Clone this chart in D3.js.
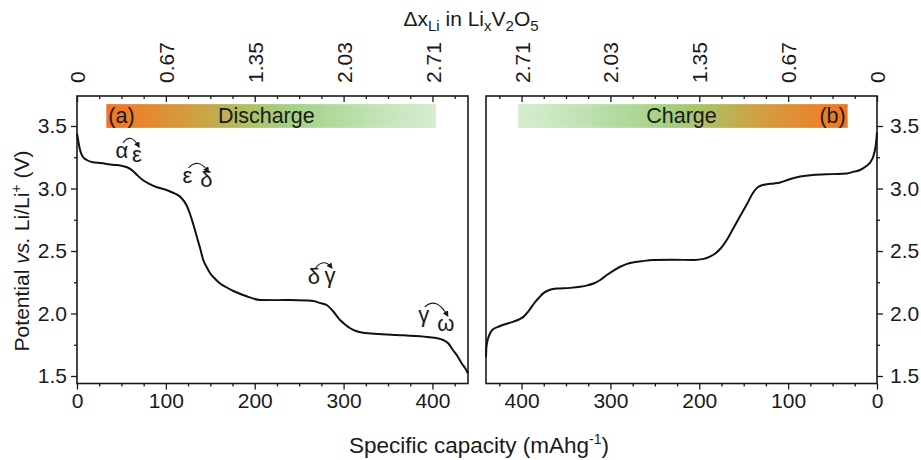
<!DOCTYPE html>
<html><head><meta charset="utf-8">
<script src="https://cdn.jsdelivr.net/npm/d3@7"></script>
<style>
body{margin:0;background:#fff}
text{font-family:"Liberation Sans",Arial,sans-serif;fill:#1a1a1a}
</style>
</head><body>
<svg id="c" width="921" height="460"></svg>
<script>
// ---------- data ----------
const dischargeCap = [0,1,3,6,11,18,26,40,50,57,63,68,74,82,90,100,108,114,118,123,127,131,135,139,142,146,150,155,161,168,176,190,206,225,240,258,266,273,281,288,296,302,307,314,322,340,360,380,397,405,412,418,423,428,433,437,440];
const dischargeV   = [3.44,3.40,3.32,3.26,3.228,3.21,3.204,3.19,3.182,3.168,3.14,3.105,3.068,3.035,3.01,2.99,2.966,2.945,2.92,2.87,2.80,2.71,2.61,2.51,2.43,2.37,2.32,2.28,2.24,2.21,2.18,2.14,2.108,2.107,2.108,2.104,2.10,2.085,2.068,2.02,1.948,1.91,1.884,1.86,1.846,1.836,1.828,1.82,1.81,1.803,1.788,1.76,1.708,1.66,1.60,1.56,1.52];
const chargeCap = [440,439.5,437,433,424,409,402,397.6,392,386,380,375,368,360,345,334,326,319,311,304,296,289,282,275,265,252,230,206,195,188,182,176,168,161,154,146,140,135,130,124,116,109,100,90,72,50,34,26,19,12,7.5,4,2,1,0];
const chargeV   = [1.65,1.735,1.815,1.868,1.90,1.935,1.955,1.975,2.02,2.08,2.13,2.165,2.19,2.20,2.205,2.214,2.225,2.24,2.27,2.308,2.345,2.374,2.395,2.408,2.418,2.428,2.43,2.428,2.437,2.455,2.48,2.52,2.60,2.69,2.78,2.88,2.96,3.005,3.025,3.034,3.04,3.048,3.07,3.09,3.108,3.115,3.12,3.135,3.148,3.18,3.21,3.26,3.32,3.37,3.45];
const capTicks = [0,100,200,300,400];
const capMinorTicks = [25,50,75,125,150,175,225,250,275,325,350,375,425];
const dxTickLabels = ["0","0.67","1.35","2.03","2.71"];
const vTicks = [1.5,2.0,2.5,3.0,3.5];
const vMinorTicks = [1.75,2.25,2.75,3.25];
const barCapRange = [33,404];
const barVRange = [3.485,3.675];
const phaseFrom = ["α","ε","δ","γ"];
const phaseTo   = ["ε","δ","γ","ω"];
const phaseFromCap = [50.6,124.3,266.6,390.3];
const phaseFromV   = [3.244,3.044,2.236,1.932];
const phaseToCap   = [67.5,145.7,284.6,415];
const phaseToV     = [3.212,3.012,2.244,1.86];

// ---------- scales ----------
const svg = d3.select("#c");
const yTop = 96, yBot = 383.5;
const y  = d3.scaleLinear().domain([1.44,3.74]).range([yBot,yTop]);
const xL = d3.scaleLinear().domain([0,440]).range([77,468]);
const xR = d3.scaleLinear().domain([440,0]).range([486,877]);

const defs = svg.append("defs");
function grad(id, rev){
  const g = defs.append("linearGradient").attr("id",id)
    .attr("x1", rev?"100%":"0%").attr("x2", rev?"0%":"100%").attr("y1","0%").attr("y2","0%");
  [[0,"#f07424"],[0.1,"#e9852c"],[0.28,"#cda244"],[0.42,"#b0bd62"],[0.55,"#a3d084"],[0.8,"#bfe2b2"],[1,"#d7edd2"]]
    .forEach(s=>g.append("stop").attr("offset",s[0]).attr("stop-color",s[1]));
}
grad("gL",false); grad("gR",true);
defs.append("marker").attr("id","arr").attr("viewBox","0 0 10 10").attr("refX",8).attr("refY",5)
  .attr("markerWidth",5.5).attr("markerHeight",5.5).attr("orient","auto")
  .append("path").attr("d","M0,0L10,5L0,10z").attr("fill","#1a1a1a");

function styleAxis(g){
  g.select(".domain").remove();
  g.selectAll("line").attr("stroke","#1a1a1a").attr("stroke-width",1.3);
  g.selectAll("text").style("font-size","21px").attr("fill","#1a1a1a");
}

function panel(x, side){
  svg.append("rect")
    .attr("x", Math.min(x(barCapRange[0]),x(barCapRange[1])))
    .attr("y", y(barVRange[1]))
    .attr("width", Math.abs(x(barCapRange[1])-x(barCapRange[0])))
    .attr("height", y(barVRange[0])-y(barVRange[1]))
    .attr("fill", side==="L"?"url(#gL)":"url(#gR)");
  svg.append("g").attr("transform",`translate(0,${yBot})`)
    .call(d3.axisBottom(x).tickValues(capTicks).tickSize(6).tickPadding(4).tickFormat(d3.format("d"))).call(styleAxis);
  svg.append("g").attr("transform",`translate(0,${yBot})`)
    .call(d3.axisBottom(x).tickValues(capMinorTicks).tickSize(3).tickFormat("")).call(styleAxis);
  const ta = svg.append("g").attr("transform",`translate(0,${yTop})`)
    .call(d3.axisTop(x).tickValues(capTicks).tickSize(-6).tickFormat((d,i)=>dxTickLabels[i])).call(styleAxis);
  ta.selectAll("text").attr("transform","rotate(-90)").attr("text-anchor","start")
    .attr("x",13).attr("y",0).attr("dy","0.36em");
  svg.append("g").attr("transform",`translate(0,${yTop})`)
    .call(d3.axisTop(x).tickValues(capMinorTicks).tickSize(-3).tickFormat("")).call(styleAxis);
  const x0 = side==="L"? x.range()[0] : x.range()[1];
  const ax = side==="L"? d3.axisLeft(y) : d3.axisRight(y);
  const ax2 = side==="L"? d3.axisLeft(y) : d3.axisRight(y);
  svg.append("g").attr("transform",`translate(${x0},0)`)
    .call(ax.tickValues(vTicks).tickSize(6).tickPadding(side==="L"?4:7).tickFormat(d3.format(".1f"))).call(styleAxis);
  svg.append("g").attr("transform",`translate(${x0},0)`)
    .call(ax2.tickValues(vMinorTicks).tickSize(3).tickFormat("")).call(styleAxis);
  svg.append("rect").attr("x",x.range()[0]).attr("y",yTop)
    .attr("width",x.range()[1]-x.range()[0]).attr("height",yBot-yTop)
    .attr("fill","none").attr("stroke","#1a1a1a").attr("stroke-width",1.6);
}
panel(xL,"L"); panel(xR,"R");

const lineGen = (x)=>d3.line().x(d=>x(d[0])).y(d=>y(d[1])).curve(d3.curveMonotoneX);
svg.append("path").datum(dischargeCap.map((c,i)=>[c,dischargeV[i]]))
  .attr("d",lineGen(xL)).attr("fill","none").attr("stroke","#111").attr("stroke-width",2);
svg.append("path").datum(chargeCap.map((c,i)=>[c,chargeV[i]]))
  .attr("d",lineGen(xR)).attr("fill","none").attr("stroke","#111").attr("stroke-width",2);

const barTextY = y(barVRange[0]) - 5;
const bf = "21.5px";
svg.append("text").attr("x",xL(barCapRange[0])+2).attr("y",barTextY).style("font-size",bf).text("(a)");
svg.append("text").attr("x",xL(213)).attr("y",barTextY).attr("text-anchor","middle").style("font-size",bf).text("Discharge");
svg.append("text").attr("x",xR(220)).attr("y",barTextY).attr("text-anchor","middle").style("font-size",bf).text("Charge");
svg.append("text").attr("x",xR(barCapRange[0])-2).attr("y",barTextY).attr("text-anchor","end").style("font-size",bf).text("(b)");

phaseFrom.forEach((a,i)=>{
  const x1 = xL(phaseFromCap[i]), y1 = y(phaseFromV[i]);
  const x2 = xL(phaseToCap[i]),   y2 = y(phaseToV[i]);
  svg.append("text").attr("x",x1).attr("y",y1).attr("text-anchor","middle").style("font-size","22px").text(a);
  svg.append("text").attr("x",x2).attr("y",y2).attr("text-anchor","middle").style("font-size","22px").text(phaseTo[i]);
  const sx = x1+1, sy = y1-15, ex = x2+2, ey = y2-15;
  svg.append("path").attr("d",`M${sx},${sy}Q${(sx+ex)/2},${Math.min(sy,ey)-11} ${ex},${ey}`)
    .attr("fill","none").attr("stroke","#1a1a1a").attr("stroke-width",1.1).attr("marker-end","url(#arr)");
});

const topTitle = svg.append("text").attr("x",471).attr("y",26).attr("text-anchor","middle").style("font-size","21px");
topTitle.append("tspan").text("Δx");
topTitle.append("tspan").attr("dy",5).style("font-size","15px").text("Li");
topTitle.append("tspan").attr("dy",-5).text(" in Li");
topTitle.append("tspan").attr("dy",5).style("font-size","15px").text("x");
topTitle.append("tspan").attr("dy",-5).text("V");
topTitle.append("tspan").attr("dy",5).style("font-size","15px").text("2");
topTitle.append("tspan").attr("dy",-5).text("O");
topTitle.append("tspan").attr("dy",5).style("font-size","15px").text("5");

const bt = svg.append("text").attr("x",479).attr("y",453).attr("text-anchor","middle").style("font-size","22.5px");
bt.append("tspan").text("Specific capacity (mAhg");
bt.append("tspan").attr("dy",-9).style("font-size","14px").text("-1");
bt.append("tspan").attr("dy",9).text(")");

const yt = svg.append("text").attr("transform","translate(29,251) rotate(-90)").attr("text-anchor","middle").style("font-size","21px");
yt.append("tspan").text("Potential ");
yt.append("tspan").style("font-style","italic").text("vs.");
yt.append("tspan").text(" Li/Li");
yt.append("tspan").attr("dy",-8).style("font-size","14px").text("+");
yt.append("tspan").attr("dy",8).text(" (V)");
</script>
</body></html>
